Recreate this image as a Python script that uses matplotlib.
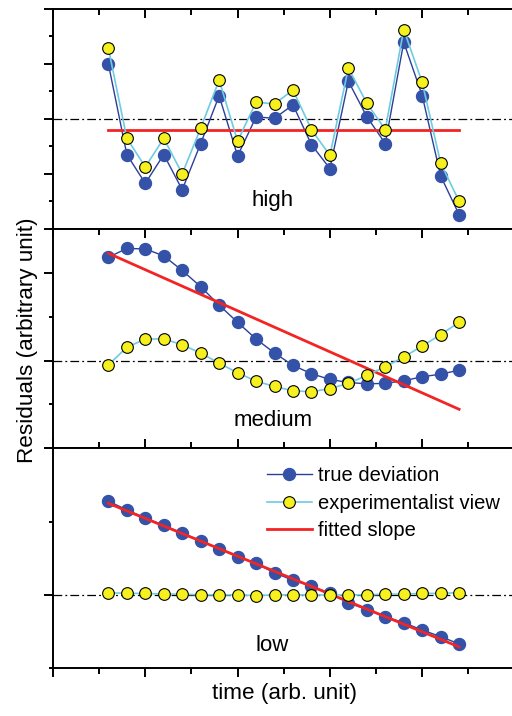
import matplotlib.pyplot as plt
from matplotlib.ticker import MultipleLocator

plt.rcParams["font.family"] = ["Liberation Sans", "DejaVu Sans"]

# time axis (arb. unit)
t = [0.6, 0.8, 1.0, 1.2, 1.4, 1.6, 1.8, 2.0, 2.2, 2.4,
     2.6, 2.8, 3.0, 3.2, 3.4, 3.6, 3.8, 4.0, 4.2, 4.4]

# high noise panel
high_true = [2.00, -1.30, -2.35, -1.30, -2.58, -0.90, 0.84, -1.35, 0.07, 0.02,
             0.51, -0.94, -1.81, 1.37, 0.08, -0.90, 2.79, 0.85, -2.08, -3.49]
high_exp = [2.57, -0.71, -1.75, -0.71, -2.00, -0.34, 1.41, -0.81, 0.61, 0.54,
            1.05, -0.39, -1.33, 1.85, 0.57, -0.39, 3.25, 1.33, -1.61, -3.00]
high_fit = [-0.41, -0.41]

# medium noise panel
medium_true = [2.35, 2.55, 2.54, 2.38, 2.05, 1.68, 1.26, 0.87, 0.49, 0.17,
               -0.11, -0.30, -0.43, -0.50, -0.53, -0.52, -0.46, -0.37, -0.31, -0.22]
medium_exp = [-0.10, 0.30, 0.49, 0.49, 0.36, 0.17, -0.06, -0.28, -0.47, -0.59,
              -0.69, -0.71, -0.64, -0.52, -0.34, -0.14, 0.08, 0.33, 0.59, 0.87]
medium_fit = [2.44, -1.11]

# low noise panel
low_true = [1.28, 1.16, 1.05, 0.95, 0.84, 0.74, 0.63, 0.52, 0.43, 0.30,
            0.20, 0.12, 0.02, -0.11, -0.20, -0.30, -0.38, -0.48, -0.57, -0.67]
low_exp = [0.03, 0.02, 0.02, 0.01, 0.01, 0.00, 0.00, 0.00, -0.01, 0.00,
           0.00, 0.00, 0.00, 0.00, 0.00, 0.01, 0.01, 0.02, 0.02, 0.03]
low_fit = [1.25, -0.71]

panels = [
    ("high", high_true, high_exp, high_fit, (-4, 4), 0.13),
    ("medium", medium_true, medium_exp, medium_fit, (-2, 3), 0.125),
    ("low", low_true, low_exp, low_fit, (-1, 2), 0.105),
]

blue = "#3352a8"
blue_line = "#2a3f9a"
cyan = "#6fcbe0"
yellow = "#f6f01e"
red = "#f22424"

fig = plt.figure(figsize=(5.12, 7.16), dpi=100)

left = 53 / 512
width = 461.5 / 512
h = 219.7 / 716
bottoms = [1 - 228.7 / 716, 1 - 448.4 / 716, 1 - 668.1 / 716]

axes = []
for k, (name, y_true, y_exp, y_fit, ylim, ty) in enumerate(panels):
    ax = fig.add_axes([left, bottoms[k], width, h])
    axes.append(ax)
    ax.axhline(0, color="black", lw=0.9, ls=(0, (7, 2.5, 1.5, 2.5)), zorder=1)
    ax.plot(t, y_true, "-o", color=blue_line, lw=1.0, mfc=blue, mec=blue,
            ms=8.6, zorder=2, label="true deviation")
    ax.plot([t[0], t[-1]], y_fit, "-", color=red, lw=2.0, zorder=3,
            label="fitted slope")
    ax.plot(t, y_exp, "-o", color=cyan, lw=1.2, mfc=yellow, mec="black",
            mew=0.8, ms=8.4, zorder=4, label="experimentalist view")
    ax.text(2.38, ty, name, transform=ax.get_xaxis_transform(),
            ha="center", va="center", fontsize=16)

    ax.set_xlim(0, 5)
    ax.set_ylim(*ylim)
    ax.xaxis.set_major_locator(MultipleLocator(1))
    ax.xaxis.set_minor_locator(MultipleLocator(0.5))
    ax.yaxis.set_major_locator(MultipleLocator(2))
    ax.yaxis.set_minor_locator(MultipleLocator(1))
    ax.spines["right"].set_visible(False)
    for s in ["left", "top", "bottom"]:
        ax.spines[s].set_linewidth(1.4)
    ax.tick_params(axis="y", which="both", direction="out", left=True,
                   labelleft=False, width=1.4)
    ax.tick_params(axis="y", which="major", length=6.5)
    ax.tick_params(axis="y", which="minor", length=3.0)
    ax.tick_params(axis="x", which="both", top=True, direction="in",
                   bottom=False, labelbottom=False, width=1.4)
    ax.tick_params(axis="x", which="major", length=6.5)
    ax.tick_params(axis="x", which="minor", length=4.0)

# bottom axis of the lowest panel, ticks pointing out
bax = axes[-1]
bax.tick_params(axis="x", which="both", bottom=True, direction="out")
bax.tick_params(axis="x", which="major", length=6.5)
bax.tick_params(axis="x", which="minor", length=4.0)

handles, labels = bax.get_legend_handles_labels()
order = [0, 2, 1]
bax.legend([handles[i] for i in order], [labels[i] for i in order],
           loc="upper left", bbox_to_anchor=(0.463, 0.918), frameon=False,
           fontsize=14.5, handlelength=2.25, handletextpad=0.32,
           labelspacing=0.42, borderpad=0, borderaxespad=0)

fig.text(28 / 512, 1 - 340 / 716, "Residuals (arbitrary unit)", rotation=90,
         ha="center", va="center", fontsize=16.2)
fig.text(285 / 512, 1 - 693 / 716, "time (arb. unit)", ha="center",
         va="center", fontsize=16.2)

fig.savefig("out.png", dpi=100)
